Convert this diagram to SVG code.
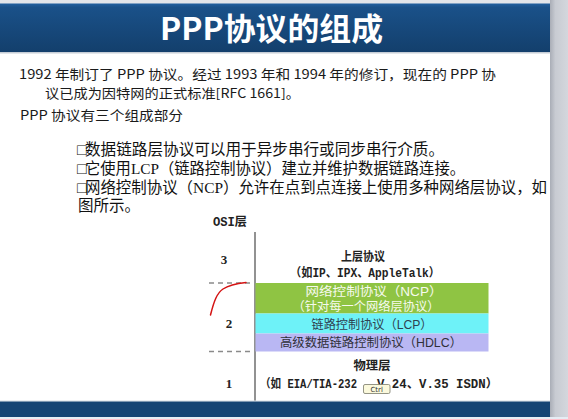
<svg xmlns="http://www.w3.org/2000/svg" width="568" height="419" viewBox="0 0 568 419">
  <defs>
    <linearGradient id="barGrad" x1="0" y1="0" x2="0" y2="1">
      <stop offset="0" stop-color="#2260a0"/>
      <stop offset="0.08" stop-color="#1a5189"/>
      <stop offset="1" stop-color="#133f6c"/>
    </linearGradient>
    <linearGradient id="sideGrad" x1="0" y1="0" x2="1" y2="0">
      <stop offset="0" stop-color="#a9adb6"/>
      <stop offset="0.3" stop-color="#c8cbd2"/>
      <stop offset="1" stop-color="#d4d7dd"/>
    </linearGradient>
    <style>
      .body { font-family: "Noto Sans CJK SC", "Liberation Sans", sans-serif; font-size: 13px; fill: #1a1a1a; }
      .bullet { font-family: "Liberation Serif", "Noto Sans CJK SC", serif; font-size: 15.6px; fill: #111; }
      .lbl { font-family: "Liberation Serif", "Noto Sans CJK SC", serif; font-size: 12px; font-weight: bold; fill: #222; }
      .mono { font-family: "Liberation Mono", "Noto Sans CJK SC", monospace; font-size: 12px; font-weight: bold; fill: #222; }
      .num { font-family: "Liberation Serif", serif; font-size: 13px; font-weight: bold; fill: #222; text-anchor: middle; }
      .boxt { font-family: "Liberation Sans", "Noto Sans CJK SC", sans-serif; font-size: 12.5px; text-anchor: middle; }
      .dash { stroke: #8a8a8a; stroke-width: 1.5; stroke-dasharray: 5 4; fill: none; }
    </style>
  </defs>

  <!-- page background -->
  <rect x="0" y="0" width="568" height="419" fill="#ffffff"/>
  <rect x="0" y="0" width="568" height="4" fill="#e3e5ea"/>
  <rect x="550" y="0" width="18" height="419" fill="url(#sideGrad)"/>
  <rect x="0" y="417" width="568" height="2" fill="#e6edf4"/>

  <!-- title bar -->
  <g id="title">
    <rect x="0" y="3.5" width="550" height="48.5" fill="url(#barGrad)"/>
    <rect x="0" y="52" width="550" height="1.5" fill="#c6cdd6"/>
    <text x="271.5" y="40" text-anchor="middle" textLength="223" lengthAdjust="spacingAndGlyphs"
          font-family="'Noto Sans CJK SC', 'Liberation Sans', sans-serif" font-size="31" font-weight="bold" fill="#ffffff">PPP协议的组成</text>
  </g>

  <!-- introduction -->
  <g id="intro">
    <text class="body" x="19" y="79" textLength="477" lengthAdjust="spacingAndGlyphs">1992 年制订了 PPP 协议。经过 1993 年和 1994 年的修订，现在的 PPP 协</text>
    <text class="body" x="45" y="97.5" textLength="255" lengthAdjust="spacingAndGlyphs">议已成为因特网的正式标准[RFC 1661]。</text>
    <text class="body" x="20" y="120" textLength="163" lengthAdjust="spacingAndGlyphs">PPP 协议有三个组成部分</text>
  </g>

  <!-- bullet list -->
  <g id="bullets">
    <text class="bullet" x="77" y="154.5">□</text>
    <text class="bullet" x="85" y="154.5" textLength="359" lengthAdjust="spacingAndGlyphs">数据链路层协议可以用于异步串行或同步串行介质。</text>
    <text class="bullet" x="77" y="173.5">□</text>
    <text class="bullet" x="85" y="173.5" textLength="380" lengthAdjust="spacingAndGlyphs">它使用LCP（链路控制协议）建立并维护数据链路连接。</text>
    <text class="bullet" x="77" y="193">□</text>
    <text class="bullet" x="85" y="193" textLength="462" lengthAdjust="spacingAndGlyphs">网络控制协议（NCP）允许在点到点连接上使用多种网络层协议，如</text>
    <text class="bullet" x="78" y="211" textLength="62" lengthAdjust="spacingAndGlyphs">图所示。</text>
  </g>

  <!-- layer axis and boundaries -->
  <g id="connectors">
    <line x1="255" y1="232" x2="255" y2="401" stroke="#6e6e6e" stroke-width="1.5"/>
    <line class="dash" x1="209" y1="283" x2="254" y2="283"/>
    <line class="dash" x1="209" y1="351.5" x2="254" y2="351.5"/>
  </g>

  <!-- OSI layer numbers -->
  <g id="osi-axis">
    <text class="mono" x="230" y="225.5" text-anchor="middle" textLength="34" lengthAdjust="spacingAndGlyphs" font-size="11">OSI层</text>
    <text class="num" x="224" y="263.5">3</text>
    <text class="num" x="229" y="328">2</text>
    <text class="num" x="229" y="388">1</text>
  </g>

  <!-- hand-drawn red mark -->
  <g id="pen-mark">
    <path d="M210.5,315 C214,301 217,293 223,289 C229,285 237,283.5 246,282.5" fill="none" stroke="#d41414" stroke-width="1.5" stroke-linecap="round"/>
  </g>

  <!-- layer 3: upper protocols -->
  <g id="upper-layer">
    <text class="lbl" x="363" y="261" text-anchor="middle" textLength="44" lengthAdjust="spacingAndGlyphs">上层协议</text>
    <text class="mono" x="365" y="276.5" text-anchor="middle" textLength="150" lengthAdjust="spacingAndGlyphs">（如IP、IPX、AppleTalk）</text>
  </g>

  <!-- layer 2: NCP -->
  <g id="ncp">
    <rect x="255.5" y="283" width="233" height="30.5" fill="#8fc443"/>
    <text class="boxt" x="374" y="295.5" fill="#f6faee" textLength="137" lengthAdjust="spacingAndGlyphs">网络控制协议（NCP）</text>
    <text class="boxt" x="366" y="310.5" fill="#f6faee" textLength="147" lengthAdjust="spacingAndGlyphs">（针对每一个网络层协议）</text>
  </g>

  <!-- layer 2: LCP -->
  <g id="lcp">
    <rect x="255.5" y="313.5" width="233" height="20" fill="#6ef2f8"/>
    <text class="boxt" x="372" y="328.5" fill="#2f4150" textLength="121" lengthAdjust="spacingAndGlyphs">链路控制协议（LCP）</text>
  </g>

  <!-- layer 2: HDLC -->
  <g id="hdlc">
    <rect x="255.5" y="333.5" width="233" height="18" fill="#b9b7f3"/>
    <text class="boxt" x="371" y="346.5" fill="#303038" textLength="182" lengthAdjust="spacingAndGlyphs">高级数据链路控制协议（HDLC）</text>
  </g>

  <!-- layer 1: physical -->
  <g id="physical-layer">
    <text class="lbl" x="372" y="369.5" text-anchor="middle" textLength="37" lengthAdjust="spacingAndGlyphs">物理层</text>
    <text class="mono" x="260" y="387.5" textLength="97" lengthAdjust="spacingAndGlyphs">（如 EIA/TIA-232</text>
    <text class="mono" x="377" y="387.5" textLength="121" lengthAdjust="spacingAndGlyphs">V.24、V.35 ISDN）</text>
  </g>

  <!-- keyboard tooltip -->
  <g id="tooltip">
    <rect x="363.5" y="384.5" width="26.5" height="9" rx="1.5" fill="#fbf9dc" stroke="#7a7a6a" stroke-width="0.8"/>
    <text x="376.7" y="391.7" text-anchor="middle" font-family="'DejaVu Sans', sans-serif" font-size="7" fill="#333">Ctrl</text>
  </g>

  <!-- footer bar -->
  <g id="footer">
    <rect x="0" y="400.5" width="550" height="1" fill="#d5dbe3"/>
    <rect x="0" y="401.5" width="550" height="15.5" fill="#154474"/>
  </g>
</svg>
